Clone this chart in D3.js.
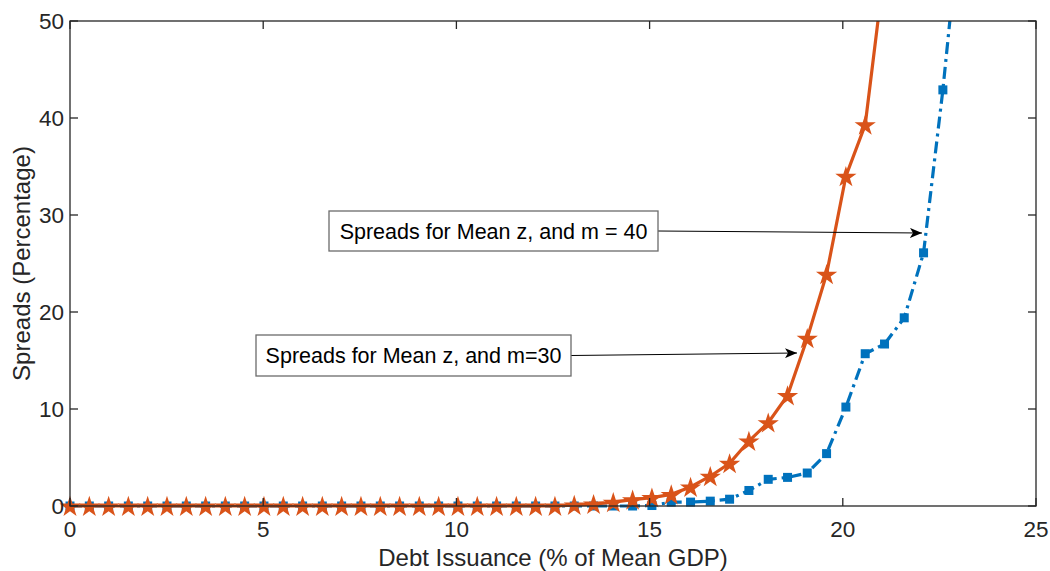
<!DOCTYPE html>
<html>
<head>
<meta charset="utf-8">
<script src="https://cdn.jsdelivr.net/npm/d3@7"></script>
<style>
  body { margin: 0; background: #fff; }
  text { font-family: "Liberation Sans", Arial, sans-serif; }
</style>
</head>
<body>
<div id="chart"></div>
<script>
// debt issuance grid (% of mean GDP)
var debtX = [0, 0.50, 1.00, 1.51, 2.01, 2.51, 3.01, 3.51, 4.02, 4.52,
             5.02, 5.52, 6.02, 6.53, 7.03, 7.53, 8.03, 8.53, 9.04, 9.54,
             10.04, 10.54, 11.04, 11.55, 12.05, 12.55, 13.05, 13.55, 14.06, 14.56,
             15.06, 15.56, 16.06, 16.57, 17.07, 17.57, 18.07, 18.57, 19.08, 19.58,
             20.08, 20.58, 21.08, 21.59, 22.09, 22.59, 23.09];

// m = 30 (red stars)
var spreadM30 = [0, 0, 0, 0, 0, 0, 0, 0, 0, 0,
                 0, 0, 0, 0, 0, 0, 0, 0, 0, 0,
                 0, 0, 0, 0, 0, 0, 0.1, 0.2, 0.4, 0.65,
                 0.87, 1.2, 1.96, 3.07, 4.4, 6.7, 8.6, 11.4, 17.3, 23.9,
                 34.0, 39.3, 55.5];

// m = 40 (blue squares)
var spreadM40 = [0, 0, 0, 0, 0, 0, 0, 0, 0, 0,
                 0, 0, 0, 0, 0, 0, 0, 0, 0, 0,
                 0, 0, 0, 0, 0, 0, 0, 0, 0, 0,
                 0.05, 0.4, 0.4, 0.5, 0.7, 1.6, 2.75, 2.95, 3.4, 5.4,
                 10.2, 15.7, 16.7, 19.4, 26.1, 42.9, 62.6];

var xTicks = [0, 5, 10, 15, 20, 25];
var yTicks = [0, 10, 20, 30, 40, 50];

var width = 1050, height = 571;
var margin = {left: 70, right: 14, top: 21, bottom: 65};
var axisColor = "#262626";

var svg = d3.select("#chart").append("svg")
  .attr("width", width)
  .attr("height", height);

var x = d3.scaleLinear().domain([0, 25]).range([margin.left, width - margin.right]);
var y = d3.scaleLinear().domain([0, 50]).range([height - margin.bottom, margin.top]);

svg.append("clipPath").attr("id", "plotclip")
  .append("rect")
  .attr("x", x(0) - 12).attr("y", y(50))
  .attr("width", x(25) - x(0) + 12).attr("height", y(0) - y(50) + 12);

var plot = svg.append("g").attr("clip-path", "url(#plotclip)");

function pts(vals) {
  return vals.map(function(v, i) { return [debtX[i], v]; });
}

var line = d3.line()
  .x(function(d) { return x(d[0]); })
  .y(function(d) { return y(d[1]); });

// blue m=40 curve, dash-dot
plot.append("path")
  .datum(pts(spreadM40))
  .attr("d", line)
  .attr("fill", "none")
  .attr("stroke", "#0072BD")
  .attr("stroke-width", 3.2)
  .attr("stroke-dasharray", "12,5,3,5");

// red m=30 curve
plot.append("path")
  .datum(pts(spreadM30))
  .attr("d", line)
  .attr("fill", "none")
  .attr("stroke", "#D95319")
  .attr("stroke-width", 3.2);

// markers (top clipped at the axes box)
svg.append("clipPath").attr("id", "markclip")
  .append("rect")
  .attr("x", 0).attr("y", y(50))
  .attr("width", width).attr("height", height - y(50));

var marks = svg.append("g").attr("clip-path", "url(#markclip)");

marks.selectAll(".sq")
  .data(pts(spreadM40))
  .enter().append("rect")
  .attr("class", "sq")
  .attr("x", function(d) { return x(d[0]) - 4.5; })
  .attr("y", function(d) { return y(d[1]) - 4.5; })
  .attr("width", 9).attr("height", 9)
  .attr("fill", "#0072BD");

var star = d3.symbol().type(d3.symbolStar).size(140);
marks.selectAll(".star")
  .data(pts(spreadM30))
  .enter().append("path")
  .attr("class", "star")
  .attr("transform", function(d) { return "translate(" + x(d[0]) + "," + (y(d[1]) + 1) + ")"; })
  .attr("d", star)
  .attr("fill", "#D95319");

// axes box and ticks
var tl = 8;
svg.append("rect")
  .attr("x", x(0)).attr("y", y(50))
  .attr("width", x(25) - x(0)).attr("height", y(0) - y(50))
  .attr("fill", "none").attr("stroke", axisColor).attr("stroke-width", 1.3);

var gx = svg.append("g");
xTicks.forEach(function(t) {
  gx.append("line").attr("x1", x(t)).attr("x2", x(t))
    .attr("y1", y(0)).attr("y2", y(0) - tl)
    .attr("stroke", axisColor).attr("stroke-width", 1.3);
  gx.append("line").attr("x1", x(t)).attr("x2", x(t))
    .attr("y1", y(50)).attr("y2", y(50) + tl)
    .attr("stroke", axisColor).attr("stroke-width", 1.3);
  gx.append("text").attr("x", x(t)).attr("y", y(0) + 31)
    .attr("text-anchor", "middle")
    .attr("font-size", 22.5).attr("fill", axisColor)
    .text(t);
});

var gy = svg.append("g");
yTicks.forEach(function(t) {
  gy.append("line").attr("x1", x(0)).attr("x2", x(0) + tl)
    .attr("y1", y(t)).attr("y2", y(t))
    .attr("stroke", axisColor).attr("stroke-width", 1.3);
  gy.append("line").attr("x1", x(25)).attr("x2", x(25) - tl)
    .attr("y1", y(t)).attr("y2", y(t))
    .attr("stroke", axisColor).attr("stroke-width", 1.3);
  gy.append("text").attr("x", x(0) - 6).attr("y", y(t) + 8)
    .attr("text-anchor", "end")
    .attr("font-size", 22.5).attr("fill", axisColor)
    .text(t);
});

// axis labels
svg.append("text")
  .attr("x", (x(0) + x(25)) / 2).attr("y", 566)
  .attr("text-anchor", "middle")
  .attr("font-size", 24).attr("fill", axisColor)
  .text("Debt Issuance (% of Mean GDP)");

svg.append("text")
  .attr("transform", "translate(30," + ((y(0) + y(50)) / 2) + ") rotate(-90)")
  .attr("text-anchor", "middle")
  .attr("font-size", 24).attr("fill", axisColor)
  .text("Spreads (Percentage)");

// annotations
svg.append("defs").append("marker")
  .attr("id", "arrow")
  .attr("viewBox", "0 0 12 10")
  .attr("refX", 12).attr("refY", 5)
  .attr("markerWidth", 12).attr("markerHeight", 10)
  .attr("markerUnits", "userSpaceOnUse")
  .attr("orient", "auto")
  .append("path")
  .attr("d", "M0,0 L12,5 L0,10 L3,5 Z")
  .attr("fill", "#000");

function annotate(label, bx, by, bw, bh, tx, ty) {
  svg.append("line")
    .attr("x1", bx + bw).attr("y1", by + bh / 2)
    .attr("x2", tx).attr("y2", ty)
    .attr("stroke", "#000").attr("stroke-width", 1)
    .attr("marker-end", "url(#arrow)");
  svg.append("rect")
    .attr("x", bx).attr("y", by).attr("width", bw).attr("height", bh)
    .attr("fill", "#fff").attr("stroke", "#6b6b6b").attr("stroke-width", 1.3);
  svg.append("text")
    .attr("x", bx + bw / 2).attr("y", by + bh / 2 + 7.5)
    .attr("text-anchor", "middle")
    .attr("font-size", 21.5).attr("fill", "#000")
    .text(label);
}

annotate("Spreads for Mean z, and m = 40", 329, 211, 329, 40, 922, 233);
annotate("Spreads for Mean z, and m=30", 256, 335, 315, 41, 797, 353);
</script>
</body>
</html>
